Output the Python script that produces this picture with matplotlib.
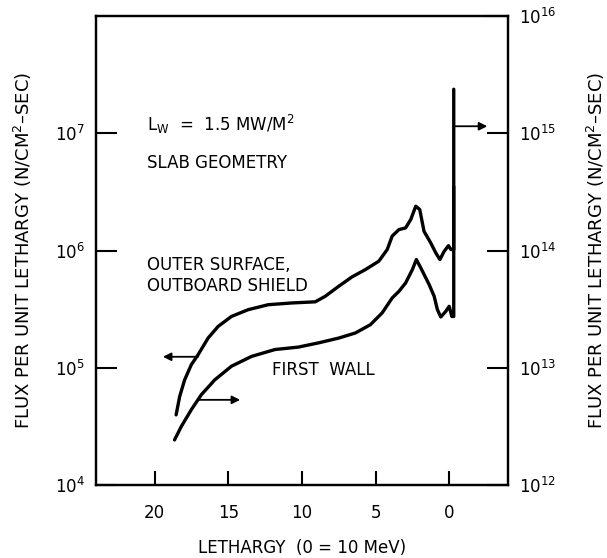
import matplotlib
matplotlib.use('Agg')
import matplotlib.pyplot as plt
import numpy as np

# lethargy (0 = 10 MeV) and flux per unit lethargy
# outer surface, outboard shield -> left axis
u_outer = [18.55, 18.31, 17.97, 17.52, 17.06, 16.38, 15.70, 14.79, 13.65, 12.29, 10.70, 9.10,
           8.42, 7.51, 6.60, 5.69, 4.78, 4.21, 3.87, 3.41, 2.96, 2.61, 2.27, 2.00, 1.71, 1.25,
           0.91, 0.63, 0.34, 0.05, -0.12, -0.31, -0.31]
f_outer = [3.96e4, 5.68e4, 7.89e4, 1.06e5, 1.29e5, 1.79e5, 2.25e5, 2.74e5, 3.13e5, 3.45e5, 3.57e5, 3.65e5,
           4.07e5, 4.95e5, 5.96e5, 6.88e5, 8.11e5, 1.02e6, 1.33e6, 1.51e6, 1.56e6, 1.84e6, 2.39e6, 2.24e6,
           1.46e6, 1.16e6, 9.55e5, 8.38e5, 9.86e5, 1.10e6, 1.02e6, 1.02e6, 3.52e6]
# first wall -> right axis
u_wall = [18.66, 18.20, 17.52, 16.84, 15.92, 14.79, 13.42, 11.83, 10.24, 8.87, 7.51, 6.37, 5.35,
          4.55, 3.87, 3.41, 2.96, 2.50, 2.23, 1.93, 1.36, 1.02, 0.80, 0.57, 0.23, 0.0, -0.18,
          -0.31, -0.31]
f_wall = [2.42e12, 3.15e12, 4.38e12, 5.88e12, 7.89e12, 1.03e13, 1.25e13, 1.43e13, 1.50e13, 1.63e13,
          1.79e13, 1.98e13, 2.33e13, 2.94e13, 3.94e13, 4.49e13, 5.29e13, 6.88e13, 8.38e13, 7.11e13,
          5.12e13, 4.07e13, 3.13e13, 2.71e13, 3.03e13, 3.34e13, 2.74e13, 2.74e13, 2.38e15]

# arrows telling which axis each curve belongs to (start, end) in left-axis units
arrow_left = [(17.06, 1.24e5), (19.45, 1.24e5)]
arrow_right_low = [(17.03, 5.32e4), (14.2, 5.32e4)]
arrow_right_top = [(-0.34, 1.15e7), (-2.59, 1.15e7)]

plt.rcParams['font.family'] = ['DejaVu Sans']
plt.rcParams['font.size'] = 12

fig = plt.figure(figsize=(6.07, 5.58), dpi=100)
ax = fig.add_axes([0.158, 0.131, 0.679, 0.840])
ax2 = ax.twinx()

lw = 2.4
ax.plot(u_outer, f_outer, color='black', lw=lw, solid_joinstyle='round', solid_capstyle='round')
ax2.plot(u_wall, f_wall, color='black', lw=lw, solid_joinstyle='round', solid_capstyle='round')

ax.set_xlim(24, -4)
ax.set_yscale('log')
ax.set_ylim(1e4, 1e8)
ax2.set_yscale('log')
ax2.set_ylim(1e12, 1e16)

ax.set_xticks([20, 15, 10, 5, 0])
ax.set_yticks([1e4, 1e5, 1e6, 1e7])
ax2.set_yticks([1e12, 1e13, 1e14, 1e15, 1e16])
ax.minorticks_off()
ax2.minorticks_off()
ax.tick_params(axis='x', direction='in', length=10, width=1.5, pad=14, labelsize=12)
ax.tick_params(axis='y', direction='in', length=15, width=1.5, pad=8, labelsize=12)
ax2.tick_params(axis='y', direction='in', length=15, width=1.5, pad=8, labelsize=12)
for a in (ax, ax2):
    for s in a.spines.values():
        s.set_linewidth(1.6)

ax.set_xlabel('LETHARGY  (0 = 10 MeV)', fontsize=12, labelpad=12)
ax.set_ylabel('FLUX PER UNIT LETHARGY (N/CM$^\\mathregular{2}$–SEC)', fontsize=13)
ax2.set_ylabel('FLUX PER UNIT LETHARGY (N/CM$^\\mathregular{2}$–SEC)', fontsize=13)
ax.yaxis.set_label_coords(-0.151, 0.5)
ax2.yaxis.set_label_coords(1.186, 0.5)

for (s, e) in (arrow_left, arrow_right_low, arrow_right_top):
    ax.annotate('', xy=e, xytext=s,
                arrowprops=dict(arrowstyle='-|>', color='black', lw=1.3, mutation_scale=12,
                                shrinkA=0, shrinkB=0))

ax.text(0.124, 0.768, 'L$_\\mathregular{W}$  =  1.5 MW/M$^\\mathregular{2}$', transform=ax.transAxes,
        fontsize=12, va='center')
ax.text(0.124, 0.687, 'SLAB GEOMETRY', transform=ax.transAxes, fontsize=12, va='center')
ax.text(0.124, 0.469, 'OUTER SURFACE,', transform=ax.transAxes, fontsize=12, va='center')
ax.text(0.124, 0.424, 'OUTBOARD SHIELD', transform=ax.transAxes, fontsize=12, va='center')
ax.text(0.427, 0.245, 'FIRST  WALL', transform=ax.transAxes, fontsize=12, va='center')

fig.savefig('out.png', dpi=100)
